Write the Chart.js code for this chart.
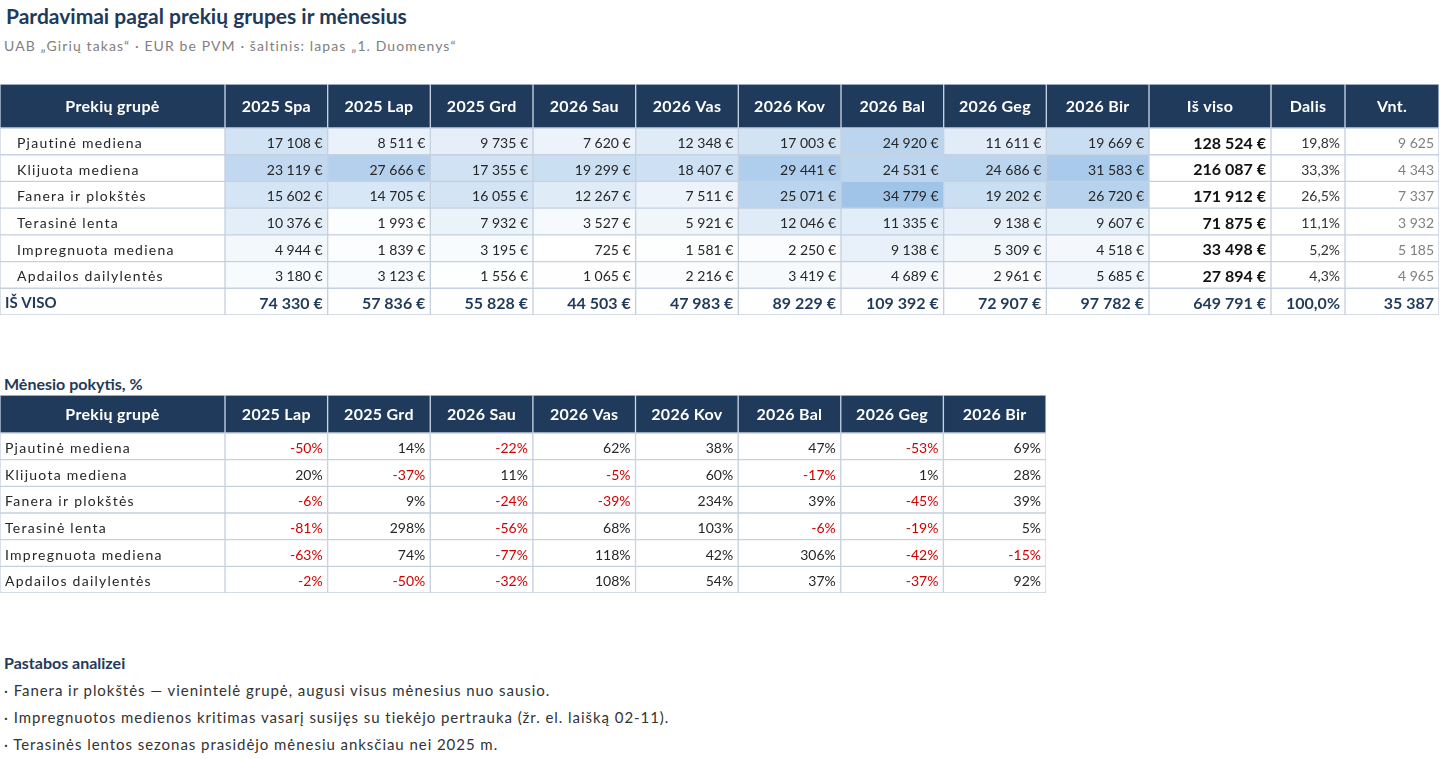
<!DOCTYPE html>
<html lang="lt">
<head>
<meta charset="UTF-8">
<title>Pardavimai pagal prekių grupes ir mėnesius</title>
<script src="https://cdn.jsdelivr.net/npm/chart.js"></script>
<style>
  body { margin: 0; width: 1440px; height: 759px; background: #fff; position: relative; overflow: hidden;
         font-family: Lato, "Open Sans", sans-serif; }
  .tekstas { position: absolute; left: 5px; white-space: nowrap; }
  #titulas { top: 3px; left: 6px; font-size: 21px; line-height: 26px; font-weight: bold; color: #1f3a5a; }
  #paantraste { top: 37px; left: 4px; font-size: 14px; line-height: 18px; color: #808080; letter-spacing: 1.1px; }
  #pokycioTitulas { top: 374px; left: 4px; font-size: 16px; line-height: 20px; font-weight: bold; color: #1f3a5a; }
  #pastabosTitulas { top: 653px; left: 4px; font-size: 16px; line-height: 20px; font-weight: bold; color: #1f3a5a; }
  .pastaba { left: 4px; font-size: 15px; line-height: 18px; color: #333; letter-spacing: 0.95px; }
  .lentele { position: absolute; left: 0; }
</style>
</head>
<body>
  <div id="titulas" class="tekstas">Pardavimai pagal prekių grupes ir mėnesius</div>
  <div id="paantraste" class="tekstas">UAB „Girių takas“ · EUR be PVM · šaltinis: lapas „1. Duomenys“</div>

  <div class="lentele" style="top:84px; width:1439px; height:44px;"><canvas id="antraste1"></canvas></div>
  <div class="lentele" style="top:128px; width:1439px; height:187px;"><canvas id="lentele1"></canvas></div>

  <div id="pokycioTitulas" class="tekstas">Mėnesio pokytis, %</div>
  <div class="lentele" style="top:395px; width:1046px; height:38px;"><canvas id="antraste2"></canvas></div>
  <div class="lentele" style="top:433px; width:1046px; height:160px;"><canvas id="lentele2"></canvas></div>

  <div id="pastabosTitulas" class="tekstas">Pastabos analizei</div>
  <div class="tekstas pastaba" style="top:681px;">· Fanera ir plokštės — vienintelė grupė, augusi visus mėnesius nuo sausio.</div>
  <div class="tekstas pastaba" style="top:708px;">· Impregnuotos medienos kritimas vasarį susijęs su tiekėjo pertrauka (žr. el. laišką 02-11).</div>
  <div class="tekstas pastaba" style="top:735px;">· Terasinės lentos sezonas prasidėjo mėnesiu anksčiau nei 2025 m.</div>

<script>
  // duomenys
  const grupes = ['Pjautinė mediena', 'Klijuota mediena', 'Fanera ir plokštės', 'Terasinė lenta', 'Impregnuota mediena', 'Apdailos dailylentės'];
  const menesiai = ['2025 Spa', '2025 Lap', '2025 Grd', '2026 Sau', '2026 Vas', '2026 Kov', '2026 Bal', '2026 Geg', '2026 Bir'];

  const pjautineMediena    = [17108, 8511, 9735, 7620, 12348, 17003, 24920, 11611, 19669];
  const klijuotaMediena    = [23119, 27666, 17355, 19299, 18407, 29441, 24531, 24686, 31583];
  const faneraIrPlokstes   = [15602, 14705, 16055, 12267, 7511, 25071, 34779, 19202, 26720];
  const terasineLenta      = [10376, 1993, 7932, 3527, 5921, 12046, 11335, 9138, 9607];
  const impregnuotaMediena = [4944, 1839, 3195, 725, 1581, 2250, 9138, 5309, 4518];
  const apdailosDailylentes = [3180, 3123, 1556, 1065, 2216, 3419, 4689, 2961, 5685];
  const pardavimai = [pjautineMediena, klijuotaMediena, faneraIrPlokstes, terasineLenta, impregnuotaMediena, apdailosDailylentes];

  const isViso = [128524, 216087, 171912, 71875, 33498, 27894];
  const dalis = [19.8, 33.3, 26.5, 11.1, 5.2, 4.3];
  const vienetai = [9625, 4343, 7337, 3932, 5185, 4965];
  const menesiuSumos = [74330, 57836, 55828, 44503, 47983, 89229, 109392, 72907, 97782];
  const bendraSuma = 649791;
  const bendraDalis = 100.0;
  const vienetuSuma = 35387;

  const pokycioMenesiai = ['2025 Lap', '2025 Grd', '2026 Sau', '2026 Vas', '2026 Kov', '2026 Bal', '2026 Geg', '2026 Bir'];
  const pokPjautine    = [-50, 14, -22, 62, 38, 47, -53, 69];
  const pokKlijuota    = [20, -37, 11, -5, 60, -17, 1, 28];
  const pokFanera      = [-6, 9, -24, -39, 234, 39, -45, 39];
  const pokTerasine    = [-81, 298, -56, 68, 103, -6, -19, 5];
  const pokImpregnuota = [-63, 74, -77, 118, 42, 306, -42, -15];
  const pokApdailos    = [-2, -50, -32, 108, 54, 37, -37, 92];
  const pokyciai = [pokPjautine, pokKlijuota, pokFanera, pokTerasine, pokImpregnuota, pokApdailos];

  // išdėstymas
  const tamsi = '#1f3a5a';
  const linija = '#c6d1e0';
  const plociai1 = [225].concat(menesiai.map(() => 924 / 9), [122, 74, 94]);
  const plociai2 = [225].concat(pokycioMenesiai.map(() => 821 / 8));

  function tukst(v) {
    return String(v).replace(/\B(?=(\d{3})+(?!\d))/g, ' ');
  }
  function euro(v) { return tukst(v) + ' €'; }
  function procentai(v) { return v.toFixed(1).replace('.', ',') + '%'; }

  const visi = pardavimai.flat();
  const mazias = Math.min(...visi), didelis = Math.max(...visi);
  function melyna(v) {
    const t = (v - mazias) / (didelis - mazias);
    const r = Math.round(255 + (160 - 255) * t);
    const g = Math.round(255 + (196 - 255) * t);
    const b = Math.round(255 + (232 - 255) * t);
    return `rgb(${r},${g},${b})`;
  }

  function antrastesLangelis(tekstas) {
    return { tekstas: tekstas, fonas: tamsi, spalva: '#fff', sriftas: 'bold 16px Lato', lyg: 'center', tarpai: '0.3px' };
  }

  const tekstai = {
    id: 'tekstai',
    afterDatasetsDraw(chart) {
      const ctx = chart.ctx;
      chart.data.datasets.forEach((ds, i) => {
        chart.getDatasetMeta(i).data.forEach((bar, r) => {
          const l = ds.langeliai[r];
          if (!l.tekstas) return;
          const p = bar.getProps(['x', 'y', 'base'], true);
          const kaire = Math.min(p.x, p.base), desine = Math.max(p.x, p.base);
          ctx.save();
          ctx.font = l.sriftas;
          ctx.fillStyle = l.spalva;
          ctx.textBaseline = 'middle';
          ctx.letterSpacing = l.tarpai || '0px';
          let tx;
          if (l.lyg === 'left') { ctx.textAlign = 'left'; tx = kaire + l.atitraukimas; }
          else if (l.lyg === 'right') { ctx.textAlign = 'right'; tx = desine - 5; }
          else { ctx.textAlign = 'center'; tx = (kaire + desine) / 2; }
          ctx.fillText(l.tekstas, tx, p.y + (l.lyg === 'center' ? 1 : 2));
          ctx.restore();
        });
      });
    }
  };

  function piestiLentele(id, eilutes, plociai, langelis) {
    const datasets = plociai.map((w, c) => ({
      data: eilutes.map(() => w),
      langeliai: eilutes.map((_, r) => langelis(r, c)),
      backgroundColor: eilutes.map((_, r) => langelis(r, c).fonas),
      borderColor: linija,
      borderWidth: 1,
      borderSkipped: false,
      categoryPercentage: 1,
      barPercentage: 1
    }));
    return new Chart(document.getElementById(id), {
      type: 'bar',
      data: { labels: eilutes, datasets: datasets },
      options: {
        indexAxis: 'y',
        responsive: true,
        maintainAspectRatio: false,
        animation: false,
        layout: { padding: 0 },
        plugins: { legend: { display: false }, tooltip: { enabled: false } },
        scales: {
          x: { stacked: true, display: false, min: 0, max: plociai.reduce((a, b) => a + b, 0) },
          y: { stacked: true, display: false }
        }
      },
      plugins: [tekstai]
    });
  }

  // 1 lentelė: antraštė
  const stulpeliai1 = ['Prekių grupė'].concat(menesiai, ['Iš viso', 'Dalis', 'Vnt.']);
  piestiLentele('antraste1', ['antraštė'], plociai1, (r, c) => antrastesLangelis(stulpeliai1[c]));

  // 1 lentelė: duomenys
  const eilutes1 = grupes.concat(['IŠ VISO']);
  piestiLentele('lentele1', eilutes1, plociai1, (r, c) => {
    const suma = r === grupes.length;
    const n = menesiai.length;
    if (suma) {
      const l = { fonas: '#fff', spalva: tamsi, sriftas: 'bold 16px Lato', lyg: 'right' };
      if (c === 0) return Object.assign(l, { tekstas: 'IŠ VISO', sriftas: 'bold 15px Lato', lyg: 'left', atitraukimas: 5 });
      if (c <= n) return Object.assign(l, { tekstas: euro(menesiuSumos[c - 1]) });
      if (c === n + 1) return Object.assign(l, { tekstas: euro(bendraSuma) });
      if (c === n + 2) return Object.assign(l, { tekstas: procentai(bendraDalis) });
      return Object.assign(l, { tekstas: tukst(vienetuSuma) });
    }
    if (c === 0) return { tekstas: grupes[r], fonas: '#fff', spalva: '#262626', sriftas: '14px Lato', lyg: 'left', atitraukimas: 17, tarpai: '1.25px' };
    if (c <= n) {
      const v = pardavimai[r][c - 1];
      return { tekstas: euro(v), fonas: melyna(v), spalva: '#262626', sriftas: '14px Lato', lyg: 'right' };
    }
    if (c === n + 1) return { tekstas: euro(isViso[r]), fonas: '#fff', spalva: '#111', sriftas: 'bold 16px Lato', lyg: 'right' };
    if (c === n + 2) return { tekstas: procentai(dalis[r]), fonas: '#fff', spalva: '#333', sriftas: '14px Lato', lyg: 'right' };
    return { tekstas: tukst(vienetai[r]), fonas: '#fff', spalva: '#808080', sriftas: '14px Lato', lyg: 'right' };
  });

  // 2 lentelė: mėnesio pokytis
  const stulpeliai2 = ['Prekių grupė'].concat(pokycioMenesiai);
  piestiLentele('antraste2', ['antraštė'], plociai2, (r, c) => antrastesLangelis(stulpeliai2[c]));
  piestiLentele('lentele2', grupes, plociai2, (r, c) => {
    if (c === 0) return { tekstas: grupes[r], fonas: '#fff', spalva: '#262626', sriftas: '14px Lato', lyg: 'left', atitraukimas: 5, tarpai: '1.25px' };
    const v = pokyciai[r][c - 1];
    return { tekstas: v + '%', fonas: '#fff', spalva: v < 0 ? '#d00000' : '#262626', sriftas: '14px Lato', lyg: 'right' };
  });
</script>
</body>
</html>
